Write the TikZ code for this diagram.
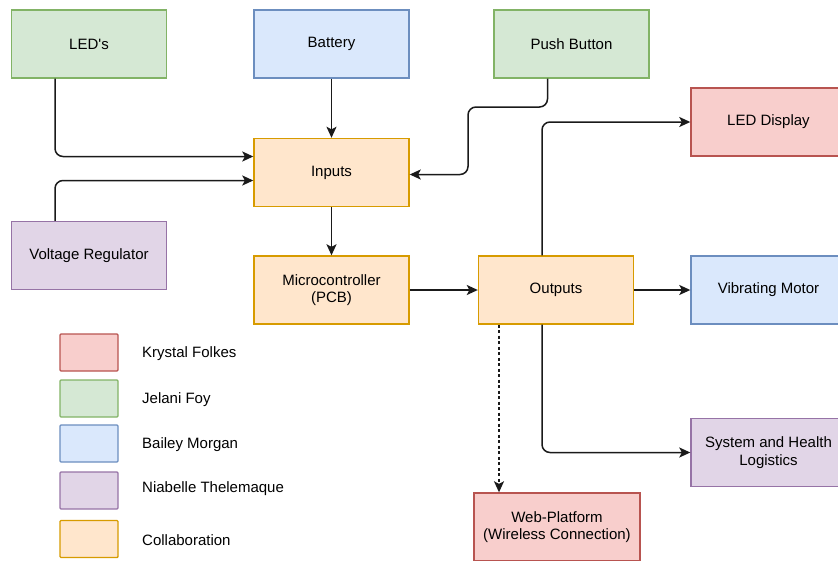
\documentclass[tikz,border=0pt]{standalone}
\usepackage{fontspec}
\setmainfont{Liberation Sans}[Ligatures=TeXOff]
\usetikzlibrary{arrows.meta}
\definecolor{gfill}{HTML}{D5E8D4}\definecolor{gline}{HTML}{82B366}
\definecolor{bfill}{HTML}{DAE8FC}\definecolor{bline}{HTML}{6C8EBF}
\definecolor{rfill}{HTML}{F8CECC}\definecolor{rline}{HTML}{B85450}
\definecolor{pfill}{HTML}{E1D5E7}\definecolor{pline}{HTML}{9673A6}
\definecolor{ofill}{HTML}{FFE6CC}\definecolor{oline}{HTML}{D79B00}
\definecolor{conn}{HTML}{1A1A1A}
\tikzset{
  blk/.style={draw, line width=1.4pt, minimum width=155pt, minimum height=68pt, inner sep=2pt, align=center, font=\fontsize{15}{17.5}\selectfont},
  gbox/.style={blk, fill=gfill, draw=gline},
  bbox/.style={blk, fill=bfill, draw=bline},
  rbox/.style={blk, fill=rfill, draw=rline},
  pbox/.style={blk, fill=pfill, draw=pline},
  obox/.style={blk, fill=ofill, draw=oline},
  leg/.style={draw, line width=1.4pt, minimum width=58pt, minimum height=37pt, inner sep=0pt, rounded corners=1pt},
  legtxt/.style={anchor=west, inner sep=0pt, font=\fontsize{15}{17.5}\selectfont},
  arr/.style={draw=conn, line width=1.5pt, rounded corners=8pt, -{Stealth[length=11pt,width=10pt,inset=2.5pt]}},
}
\begin{document}
\begin{tikzpicture}[x=1pt,y=-1pt]
\useasboundingbox (0,0) rectangle (838,560);
\node[gbox] (led) at (89,44) {LED's};
\node[bbox] (bat) at (331.5,44) {Battery};
\node[gbox] (pb) at (571.5,44) {Push Button};
\node[obox] (inp) at (331.5,172.5) {Inputs};
\node[pbox] (vr) at (89,255.5) {Voltage Regulator};
\node[obox] (mc) at (331.5,290) {Microcontroller\\(PCB)};
\node[obox] (out) at (556,290) {Outputs};
\node[rbox] (disp) at (768.5,122) {LED Display};
\node[bbox] (vm) at (768.5,290) {Vibrating Motor};
\node[pbox] (sys) at (768.5,452.5) {System and Health\\Logistics};
\node[rbox, minimum width=166pt] (web) at (557,527) {Web-Platform\\(Wireless Connection)};

\node[leg, fill=rfill, draw=rline] (l1) at (89,352.5) {};
\node[leg, fill=gfill, draw=gline] (l2) at (89,398.5) {};
\node[leg, fill=bfill, draw=bline] (l3) at (89,443.5) {};
\node[leg, fill=pfill, draw=pline] (l4) at (89,490.5) {};
\node[leg, fill=ofill, draw=oline] (l5) at (89,539) {};
\node[legtxt] (t1) at (142,354) {Krystal Folkes};
\node[legtxt] (t2) at (142,400) {Jelani Foy};
\node[legtxt] (t3) at (142,445) {Bailey Morgan};
\node[legtxt] (t4) at (142,489) {Niabelle Thelemaque};
\node[legtxt] (t5) at (142,540) {Collaboration};

\draw[arr] ([xshift=-34pt]led.south) |- ([yshift=16pt]inp.west);
\draw[arr] ([xshift=-34pt]vr.north) |- ([yshift=-8pt]inp.west);
\draw[arr] (bat) -- (inp);
\coordinate (pbk) at (468,107);
\draw[arr] ([xshift=-24pt]pb.south) |- (pbk) |- ([yshift=-2pt]inp.east);
\draw[arr] (inp) -- (mc);
\draw[arr] (mc) -- (out);
\draw[arr] (out) -- (vm);
\draw[arr] ([xshift=-14pt]out.north) |- (disp.west);
\draw[arr] ([xshift=-14pt]out.south) |- (sys.west);
\coordinate (wtop) at ([xshift=-57pt]out.south);
\draw[arr, rounded corners=0pt, dash pattern=on 3pt off 2.5pt] (wtop) -- (wtop |- web.north);
\end{tikzpicture}
\end{document}
